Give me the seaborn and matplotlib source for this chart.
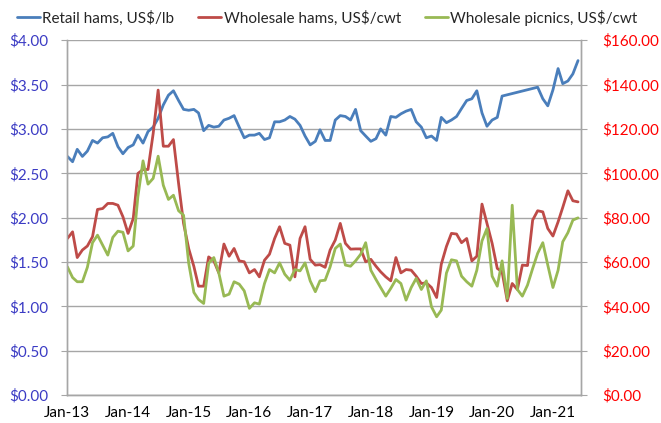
import matplotlib
matplotlib.use("Agg")
import matplotlib.pyplot as plt
import matplotlib.dates as mdates
from matplotlib.ticker import MultipleLocator, FuncFormatter
import seaborn as sns
import pandas as pd
import numpy as np

# monthly data, Jan-13 .. Jun-21
months = pd.date_range("2013-01-01", periods=102, freq="MS")

# Retail hams, US$/lb (left axis) - no data reported Apr-20 .. Sep-20
retail_hams = [
    2.69, 2.63, 2.77, 2.69, 2.75, 2.87, 2.84, 2.90, 2.91, 2.95, 2.80, 2.72,
    2.79, 2.82, 2.93, 2.84, 2.97, 3.02, 3.12, 3.27, 3.38, 3.43, 3.32, 3.22,
    3.21, 3.22, 3.18, 2.98, 3.04, 3.02, 3.03, 3.10, 3.12, 3.15, 3.02, 2.90,
    2.93, 2.93, 2.95, 2.88, 2.90, 3.08, 3.08, 3.10, 3.14, 3.11, 3.04, 2.92,
    2.82, 2.86, 2.99, 2.87, 2.87, 3.10, 3.15, 3.14, 3.10, 3.22, 2.98, 2.92,
    2.86, 2.89, 3.00, 2.93, 3.14, 3.13, 3.17, 3.20, 3.22, 3.08, 3.02, 2.90,
    2.92, 2.87, 3.13, 3.07, 3.10, 3.14, 3.23, 3.32, 3.34, 3.43, 3.18, 3.03,
    3.10, 3.13, 3.37, np.nan, np.nan, np.nan, np.nan, np.nan, np.nan, 3.47,
    3.34, 3.26, 3.44, 3.68, 3.51, 3.54, 3.62, 3.77,
]

# Wholesale hams, US$/cwt (right axis)
wholesale_hams = [
    70.6, 73.6, 62.0, 65.4, 67.2, 71.4, 83.7, 84.1, 86.4, 86.4, 85.6, 80.4,
    72.9, 79.6, 99.9, 101.7, 101.7, 117.9, 137.5, 112.2, 112.2, 115.2, 95.4, 77.4,
    66.0, 58.0, 49.1, 49.1, 62.3, 60.5, 55.1, 68.1, 62.6, 66.1, 60.5, 60.1,
    55.1, 56.6, 53.3, 60.8, 63.5, 70.6, 75.9, 68.4, 67.6, 53.3, 70.6, 75.9,
    61.2, 58.6, 58.8, 57.6, 65.4, 69.9, 77.4, 68.4, 65.8, 65.9, 65.9, 60.1,
    61.2, 58.1, 55.6, 53.3, 51.5, 62.0, 55.1, 56.6, 56.3, 53.6, 50.3, 50.6,
    48.5, 44.0, 59.0, 67.0, 72.9, 72.6, 68.7, 70.6, 60.5, 62.6, 86.1, 77.4,
    68.4, 57.1, 55.6, 42.5, 50.3, 47.6, 58.6, 58.4, 78.9, 83.1, 82.6, 75.1,
    71.7, 78.1, 84.6, 92.1, 87.6, 87.1,
]

# Wholesale picnics, US$/cwt (right axis)
wholesale_picnics = [
    57.8, 53.0, 51.1, 51.1, 57.6, 68.7, 72.1, 67.6, 63.1, 71.1, 73.9, 73.4,
    65.0, 67.2, 89.4, 105.6, 95.1, 97.7, 107.7, 94.6, 88.2, 90.1, 83.1, 81.1,
    59.4, 46.3, 43.1, 41.3, 59.4, 62.0, 55.1, 44.6, 45.5, 51.1, 50.0, 47.0,
    39.1, 41.6, 41.0, 50.3, 56.6, 55.1, 59.6, 54.5, 51.8, 56.6, 56.0, 59.6,
    51.5, 46.6, 51.5, 51.8, 57.8, 66.1, 68.1, 58.6, 58.1, 60.5, 63.5, 68.7,
    56.3, 52.1, 48.5, 44.6, 48.1, 52.1, 50.3, 42.8, 48.5, 52.6, 47.6, 51.5,
    39.8, 35.3, 38.3, 55.0, 61.0, 60.5, 53.6, 51.1, 49.1, 56.3, 69.5, 75.1,
    53.6, 49.1, 60.5, 43.6, 85.6, 47.6, 44.6, 49.6, 57.1, 63.9, 68.7, 58.6,
    48.5, 56.3, 69.1, 73.2, 78.9, 79.9,
]

labels = ["Retail hams, US$/lb", "Wholesale hams, US$/cwt", "Wholesale picnics, US$/cwt"]
colors = ["#4A7EBB", "#BE4B48", "#98B954"]

df = pd.DataFrame({
    "month": months,
    "retail": retail_hams,
    "hams": wholesale_hams,
    "picnics": wholesale_picnics,
})

sns.set_style("white")
plt.rcParams["font.family"] = ["Lato", "DejaVu Sans"]

fig = plt.figure(figsize=(6.61, 4.23), dpi=100)
ax = fig.add_axes([0.101, 0.066, 0.778, 0.839])
ax2 = ax.twinx()

retail_df = df.dropna(subset=["retail"])
sns.lineplot(data=retail_df, x="month", y="retail", ax=ax, color=colors[0], lw=2, label=labels[0], legend=False)
sns.lineplot(data=df, x="month", y="hams", ax=ax2, color=colors[1], lw=2, label=labels[1], legend=False)
sns.lineplot(data=df, x="month", y="picnics", ax=ax2, color=colors[2], lw=2, label=labels[2], legend=False)

ax.set_ylim(0, 4)
ax2.set_ylim(0, 160)
ax.yaxis.set_major_locator(MultipleLocator(0.5))
ax2.yaxis.set_major_locator(MultipleLocator(20))
money = FuncFormatter(lambda v, p: "${:,.2f}".format(v))
ax.yaxis.set_major_formatter(money)
ax2.yaxis.set_major_formatter(money)

ax.set_xlim(months[0] - pd.Timedelta(days=4), months[-1] + pd.Timedelta(days=18))
ax.xaxis.set_major_locator(mdates.MonthLocator(bymonth=1))
ax.xaxis.set_major_formatter(mdates.DateFormatter("%b-%y"))

ax.set_xlabel("")
ax.set_ylabel("")
ax2.set_ylabel("")

ax.grid(axis="y", color="#A6A6A6", lw=1)
ax.grid(axis="x", visible=False)
for a in (ax, ax2):
    for name, sp in a.spines.items():
        sp.set_color("#A6A6A6")
        sp.set_linewidth(1)
    a.spines["top"].set_visible(False)

ax.tick_params(axis="y", labelsize=11, colors="#A6A6A6", labelcolor="#3B3BC4", length=4, pad=9, left=True)
ax2.tick_params(axis="y", labelsize=11, colors="#A6A6A6", labelcolor="#FF0000", length=4, pad=11, right=True)
ax.tick_params(axis="x", labelsize=11, labelcolor="#000000", length=0, pad=8)

h1, l1 = ax.get_legend_handles_labels()
h2, l2 = ax2.get_legend_handles_labels()
fig.legend(h1 + h2, l1 + l2, loc="upper center", bbox_to_anchor=(0.495, 1.01), ncol=3,
           frameon=False, fontsize=11, handlelength=1.5, handletextpad=0.15, columnspacing=1.6)

plt.savefig("out.png", dpi=100)
